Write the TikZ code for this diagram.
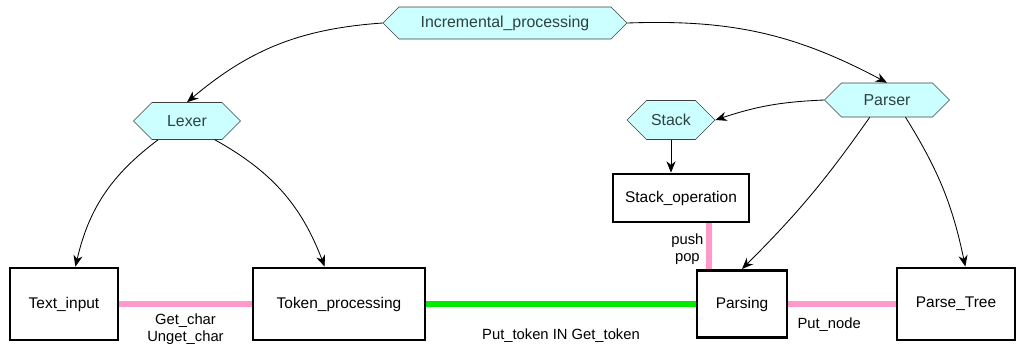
\documentclass[tikz,border=0pt]{standalone}
\usepackage{fontspec}
\setmainfont{Liberation Sans}
\usepackage{xcolor}
\usepackage{tikz}
\usetikzlibrary{shapes,shapes.symbols,arrows,arrows.meta}
\definecolor{hexfill}{RGB}{204,255,255}
\definecolor{hextext}{RGB}{45,65,65}
\definecolor{linkpink}{RGB}{255,153,204}
\definecolor{linkgreen}{RGB}{0,235,0}
\tikzstyle{unit} = [rectangle, draw, line width=2pt, fill=white,
    font=\fontsize{11}{13}\selectfont]

\begin{document}
\begin{tikzpicture}[x=0.025cm,y=-0.025cm]

\tikzset{>={Stealth[length=8pt,width=6.5pt,inset=2.5pt]}}
\tikzstyle{hexa} = [signal, signal to=west and east, draw=black!75,
	fill=hexfill, text=hextext, inner sep=0pt,
	font=\fontsize{11.3}{13}\selectfont];
\tikzstyle{flow} = [->, line width=0.6pt];
\tikzstyle{pinklink} = [draw=linkpink, line width=4pt];
\tikzstyle{lbl} = [font=\fontsize{10.5}{12}\selectfont, align=center, inner sep=2pt];

\useasboundingbox (0,0) rectangle (1021,343);

\node[hexa, minimum width=6.1cm, minimum height=0.8cm] (inc) at (505,23) {Incremental\_processing};
\node[hexa, minimum width=2.675cm, minimum height=0.925cm] (lex) at (187,121) {Lexer};
\node[hexa, minimum width=3.125cm, minimum height=0.85cm] (par) at (887,100) {Parser};
\node[hexa, minimum width=2.2cm, minimum height=0.975cm] (stk) at (671,120) {Stack};

\coordinate (pushx) at (709,0);

\node[unit, minimum width=3.4cm, minimum height=1.2cm] (sop) at (681,198) {Stack\_operation};
\node[unit, minimum width=2.7cm, minimum height=1.8cm] (txt) at (64,304) {Text\_input};
\node[unit, minimum width=4.3cm, minimum height=1.8cm] (tok) at (339,304) {Token\_processing};
\node[unit, minimum width=2.25cm, minimum height=1.68cm] (prs) at (742,304) {Parsing};
\node[unit, minimum width=2.95cm, minimum height=1.8cm] (tre) at (956,304) {Parse\_Tree};

% hierarchy
\draw[flow] (inc.west) to[bend right=18] (lex.north);
\draw[flow] (inc.east) to[bend left=15] (par.north);
\draw[flow] (lex.213) to[bend right=20] (txt.73);
\draw[flow] (lex.326) to[bend left=20] (tok.111);
\draw[flow] (par.west) to[bend right=8] (stk.east);
\draw[flow] (stk.south) -- (stk.south |- sop.north);
\draw[flow] (par.225) to[bend left=5] (prs.north);
\draw[flow] (par.317) to[bend left=10] (tre.76);

% links
\draw[pinklink] (txt.east) -- node[lbl, below=3pt] {Get\_char\\Unget\_char} (tok.west);
\draw[draw=linkgreen, line width=4pt] (tok.east) -- node[lbl, below=13.5pt] {Put\_token IN Get\_token} (prs.west);
\draw[pinklink] (prs.east) -- node[lbl, below=6pt, pos=.38] {Put\_node} (tre.west);
\draw[pinklink] (sop.south -| pushx) -- node[lbl, left, yshift=-2pt] {push\\pop} (prs.north -| pushx);

\end{tikzpicture}
\end{document}
